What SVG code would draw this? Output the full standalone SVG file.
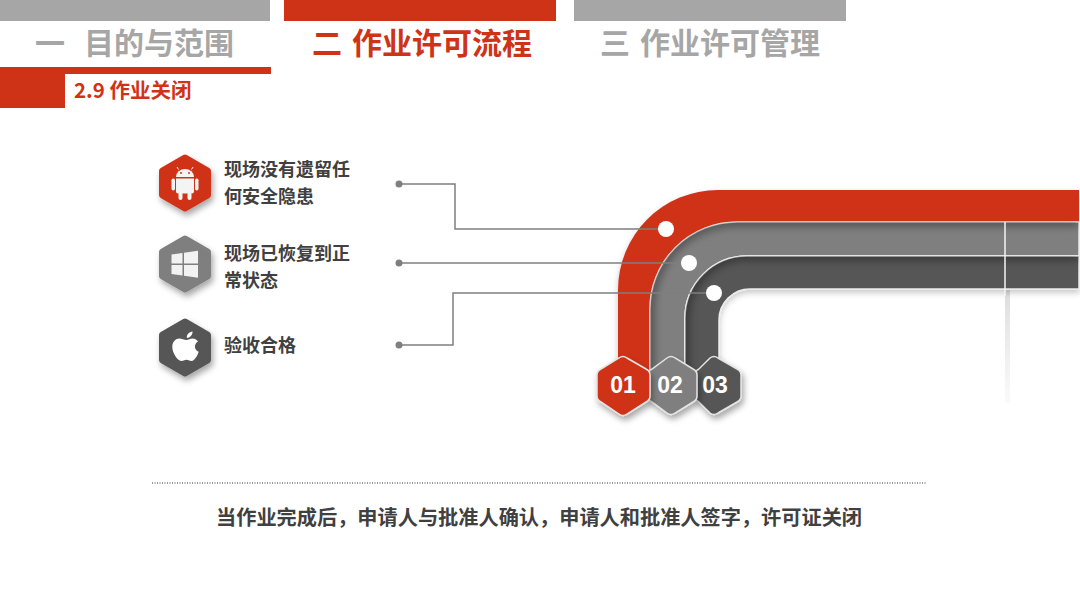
<svg xmlns="http://www.w3.org/2000/svg" width="1080" height="608" viewBox="0 0 1080 608">
<style>
text{font-family:"Noto Sans CJK SC","Liberation Sans",sans-serif;font-weight:700}
.t{font-size:30px;fill:#a6a6a6}
.r{fill:#cf3317}
.l{font-size:18px;fill:#404040}
.n{font-family:"Liberation Sans","Noto Sans CJK SC",sans-serif;font-size:23px;fill:#fff;text-anchor:middle}
.c{fill:none;stroke:#7f7f7f;stroke-width:1.5}
.d{fill:#7f7f7f}
.w{fill:#fff}
.hx{stroke-linejoin:round;stroke-width:7}
.nx{stroke-width:1.5;stroke:#e4e4e4}
.b{stroke:#ececec;stroke-width:1.5}
.is{fill:none;stroke:#000;stroke-opacity:.4;stroke-width:8;filter:url(#blur)}
</style>
<defs>
<filter id="sh" x="-40%" y="-40%" width="190%" height="190%"><feDropShadow dx="2" dy="4" stdDeviation="3" flood-color="#000" flood-opacity=".35"/></filter>
<filter id="blur" x="-10%" y="-10%" width="120%" height="120%"><feGaussianBlur stdDeviation="4"/></filter>
<filter id="ds" x="-10%" y="-10%" width="120%" height="130%"><feDropShadow dx="0" dy="3" stdDeviation="3" flood-color="#000" flood-opacity=".22"/></filter>
<linearGradient id="vs" x1="0" y1="0" x2="0" y2="1"><stop offset="0" stop-color="#bbb" stop-opacity=".5"/><stop offset="1" stop-color="#ccc" stop-opacity=".1"/></linearGradient>
<clipPath id="cg"><path d="M650,372V309A87,87 0 0 1 737,222H1079V256H747A62,62 0 0 0 685,318V372Z"/></clipPath>
<clipPath id="cd"><path d="M685,372V318A62,62 0 0 1 747,256H1079V289H750A31,31 0 0 0 719,320V372Z"/></clipPath>
</defs>
<rect width="1080" height="608" fill="#fff"/>

<g id="header">
<rect x="0" y="0" width="270" height="21" fill="#a6a6a6"/>
<rect x="284" y="0" width="272" height="21" fill="#cf3317"/>
<rect x="574" y="0" width="272" height="21" fill="#a6a6a6"/>
<text class="t" x="35" y="54">一</text>
<text class="t" x="84" y="54">目的与范围</text>
<text class="t r" x="312" y="54">二</text>
<text class="t r" x="352" y="54">作业许可流程</text>
<text class="t" x="600" y="54">三</text>
<text class="t" x="640" y="54">作业许可管理</text>
<rect x="0" y="67" width="271" height="7" fill="#cf3317"/>
<rect x="0" y="74" width="65" height="34" fill="#cf3317"/>
<text class="r" x="74" y="98" font-size="20.5">2.9 作业关闭</text>
</g>

<g id="bands">
<rect x="1005" y="290" width="5" height="113" fill="url(#vs)"/>
<g filter="url(#ds)">
<path fill="#cf3317" d="M618,372V290A100,100 0 0 1 718,190H1079V222H737A87,87 0 0 0 650,309V372Z"/>
<path fill="#7f7f7f" class="b" d="M650,372V309A87,87 0 0 1 737,222H1079V256H747A62,62 0 0 0 685,318V372Z"/>
<path fill="#565656" class="b" d="M685,372V318A62,62 0 0 1 747,256H1079V289H750A31,31 0 0 0 719,320V372Z"/>
</g>
<g clip-path="url(#cg)"><path class="is" d="M650,372V309A87,87 0 0 1 737,222H1079"/></g>
<g clip-path="url(#cd)"><path class="is" d="M685,372V318A62,62 0 0 1 747,256H1079"/></g>
<path d="M1005,222V296" stroke="#f4f4f4" stroke-width="1.500" fill="none"/>
</g>

<g id="connectors">
<path class="c" d="M399,184H455V229H660"/>
<path class="c" d="M399,263H682"/>
<path class="c" d="M399,345H453V293H708"/>
<circle class="d" cx="399" cy="184" r="3.500"/>
<circle class="d" cx="399" cy="263" r="3.500"/>
<circle class="d" cx="399" cy="345" r="3.500"/>
<circle class="w" cx="666" cy="229" r="8"/>
<circle class="w" cx="689" cy="263" r="8"/>
<circle class="w" cx="714" cy="293" r="8"/>
</g>

<g id="node-a">
<polygon class="hx" filter="url(#sh)" fill="#cf3317" stroke="#cf3317" points="185,158 207.500,171 207.500,195 185,208 162.500,195 162.500,171"/>
<g fill="#f4f4f4">
<path d="M176,177a9,8 0 0 1 18,0Z"/>
<path d="M178.500,169.500l-1.500,-2.500M191.500,169.500l1.500,-2.500" stroke="#f4f4f4" stroke-width="1"/>
<path d="M176,178.500h18v13a2,2 0 0 1 -2,2h-14a2,2 0 0 1 -2,-2Z"/>
<rect x="171.500" y="178.500" width="3.500" height="12" rx="1.700"/>
<rect x="195" y="178.500" width="3.500" height="12" rx="1.700"/>
<rect x="178.500" y="192" width="4" height="8" rx="2"/>
<rect x="187.500" y="192" width="4" height="8" rx="2"/>
</g>
<circle cx="181" cy="173" r="1" fill="#cf3317"/>
<circle cx="189" cy="173" r="1" fill="#cf3317"/>
<text class="l" x="224" y="176">现场没有遗留任</text>
<text class="l" x="224" y="203">何安全隐患</text>
</g>

<g id="node-b">
<polygon class="hx" filter="url(#sh)" fill="#7f7f7f" stroke="#7f7f7f" points="185,239 207.500,252 207.500,276 185,289 162.500,276 162.500,252"/>
<g fill="#f2f2f2">
<path d="M171.500,254.500l11,-1.500v10.500h-11Z"/>
<path d="M184,252.800l14,-2v12.700h-14Z"/>
<path d="M171.500,265h11v10.500l-11,-1.500Z"/>
<path d="M184,265h14v12.700l-14,-2Z"/>
</g>
<text class="l" x="224" y="260">现场已恢复到正</text>
<text class="l" x="224" y="287">常状态</text>
</g>

<g id="node-c">
<polygon class="hx" filter="url(#sh)" fill="#565656" stroke="#565656" points="185,322 207.500,335 207.500,360 185,373 162.500,360 162.500,335"/>
<path fill="#fff" d="M192.500,331.500c.3,3.500-2.700,6.500-5.700,6.500c-.4,-3.300,2.500,-6.300,5.700,-6.500Z"/>
<path fill="#fff" d="M186.500,340c2,0,3.500,-1.500,6,-1.500c2,0,4.300,1,5.500,3c-4.500,2.500-3.800,8.500,.7,10.300c-1.300,4-4.300,9.200-7,9.200c-2,0-3,-1.300-5.200,-1.300s-3.300,1.300-5.200,1.300c-4,0-9,-8.500-9,-14c0,-5.500,3.500,-8.500,7,-8.500c2.500,0,4.700,1.500,7.200,1.500Z"/>
<text class="l" x="224" y="352">验收合格</text>
</g>

<g id="node-03">
<path class="nx" filter="url(#sh)" fill="#565656" d="M710,358Q714,355 718,358L737,369Q741,371 741,375V396Q741,400 737,402L718,413Q714,416 710,413L699,402Q695,400 695,396V375Q695,371 699,369Z"/>
<text class="n" x="715" y="393">03</text>
</g>
<g id="node-02">
<path class="nx" filter="url(#sh)" fill="#7f7f7f" d="M667,358Q671,355 675,358L693,369Q697,371 697,375V396Q697,400 693,402L675,413Q671,416 667,413L652,402Q648,400 648,396V375Q648,371 652,369Z"/>
<text class="n" x="670" y="393">02</text>
</g>
<g id="node-01">
<path class="nx" filter="url(#sh)" fill="#cf3317" d="M619,358Q623,355 627,358L646,369Q650,371 650,375V396Q650,400 646,402L627,414Q623,417 619,414L601,402Q597,400 597,396V375Q597,371 601,369Z"/>
<text class="n" x="623" y="393">01</text>
</g>

<g id="footer">
<line x1="152" y1="483" x2="926" y2="483" stroke="#333" stroke-width="1" stroke-dasharray="1 1.500"/>
<text x="216" y="525" font-size="20.200" fill="#404040">当作业完成后，申请人与批准人确认，申请人和批准人签字，许可证关闭</text>
</g>
</svg>
